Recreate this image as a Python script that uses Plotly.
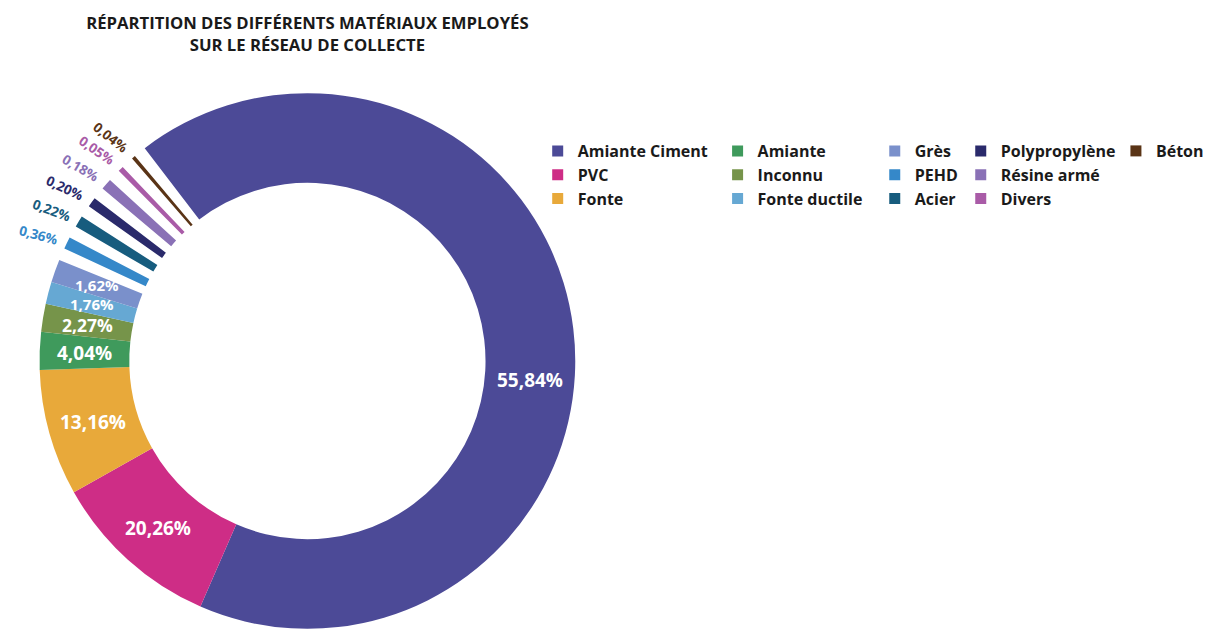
import math
import plotly.graph_objects as go

# ---------------- data ----------------
materials = ["Amiante Ciment", "PVC", "Fonte", "Amiante", "Inconnu", "Fonte ductile",
             "Grès", "PEHD", "Acier", "Polypropylène", "Résine armé", "Divers", "Béton"]
# percentages printed on the chart
pct_labels = [55.84, 20.26, 13.16, 4.04, 2.27, 1.76, 1.62, 0.36, 0.22, 0.20, 0.18, 0.05, 0.04]
# share of the ring each slice actually occupies in the picture (in %)
drawn_share = [66.92, 10.31, 7.61, 2.28, 1.69, 1.33, 1.39, 0.72, 0.69, 0.58, 0.67, 0.33, 0.22]
# small slices that are drawn separated from their neighbours
detached = [False, False, False, False, False, False, False, True, True, True, True, True, True]
colors = ["#4C4A97", "#CE2D86", "#E8A93A", "#3F9A5C", "#76944A", "#66A8D3", "#7A90CB",
          "#3588C9", "#175C7E", "#2A2A6B", "#8A71B6", "#A95BA7", "#5A3416"]

TITLE = "RÉPARTITION DES DIFFÉRENTS MATÉRIAUX EMPLOYÉS<br>SUR LE RÉSEAU DE COLLECTE"

# ---------------- geometry / style ----------------
W, H = 1209, 632
CX, CY, R = 311, 361, 271
HOLE = 0.665
START = 322.6          # degrees clockwise from 12 o'clock
GAP = 0.75             # white spacing around detached slices (% of ring)
FONT = "Open Sans"

def fmt(v):
    return f"{v:.2f}".replace(".", ",") + "%"

# build pie values with spacing slices around the detached ones
vals, labs, cols = [], [], []
mids = []
acc = 0.0
total = sum(drawn_share) + GAP * (sum(detached) + 1)
gap_k = 0
for i, (m, v) in enumerate(zip(materials, drawn_share)):
    if detached[i]:
        gap_k += 1
        vals.append(GAP); labs.append(f"gap{gap_k}"); cols.append("rgba(0,0,0,0)")
        acc += GAP
    vals.append(v); labs.append(m); cols.append(colors[i])
    mids.append(START + 360.0 * (acc + v / 2) / total)
    acc += v
if detached[-1]:
    gap_k += 1
    vals.append(GAP); labs.append(f"gap{gap_k}"); cols.append("rgba(0,0,0,0)")

fig = go.Figure()
fig.add_trace(go.Pie(
    values=vals, labels=labs, sort=False, direction="clockwise", rotation=START - 360,
    hole=HOLE, textinfo="none", showlegend=False, hoverinfo="label",
    marker=dict(colors=cols, line=dict(width=0)),
    domain=dict(x=[(CX - R) / W, (CX + R) / W], y=[1 - (CY + R) / H, 1 - (CY - R) / H]),
))

# labels
inside_size = [19, 19, 19, 19, 17.5, 15, 15]
label_shift = {0: 11.7}
annotations = []
r_in = R * (1 + HOLE) / 2
r_out = 300
for i, mid in enumerate(mids):
    if detached[i]:
        ang = mid - 1.2
        r = r_out
        tilt = mid - 281
        size = 13.5
        color = colors[i]
    else:
        ang = mid + label_shift.get(i, 0)
        r = r_in
        tilt = max(0.0, 0.45 * (mid - 262)) if 262 < mid < 300 else 0
        size = inside_size[i]
        color = "white"
    a = math.radians(ang)
    px = CX + r * math.sin(a)
    py = CY - r * math.cos(a)
    annotations.append(dict(
        x=px / W, y=1 - py / H, xref="paper", yref="paper", showarrow=False,
        text=fmt(pct_labels[i]), textangle=tilt, xanchor="center", yanchor="middle",
        font=dict(family=FONT, size=size, color=color, weight="bold"),
    ))

# legend: 5 columns of 3, column-major in slice order
col_text_x = [584, 766, 925, 1012, 1169]
legend_top = 134
for i, m in enumerate(materials):
    c = i // 3
    lg = "legend" if c == 0 else f"legend{c + 1}"
    fig.add_trace(go.Scatter(
        x=[None], y=[None], mode="markers", name=m, legend=lg,
        marker=dict(symbol="square", size=11, color=colors[i]),
    ))

legend_common = dict(
    font=dict(family=FONT, size=16, color="#1a1a1a", weight="bold"),
    bgcolor="rgba(0,0,0,0)", borderwidth=0, orientation="v",
    xanchor="left", yanchor="top", yref="paper", xref="paper",
)
layout_legends = {}
for c, tx in enumerate(col_text_x):
    key = "legend" if c == 0 else f"legend{c + 1}"
    layout_legends[key] = dict(x=(tx - 40) / W, y=1 - legend_top / H, **legend_common)

fig.update_layout(
    width=W, height=H, margin=dict(l=0, r=0, t=0, b=0),
    paper_bgcolor="white", plot_bgcolor="white",
    xaxis=dict(visible=False), yaxis=dict(visible=False),
    title=dict(text=TITLE, x=CX / W, xref="paper", xanchor="center",
               y=1 - 29 / H, yref="container", yanchor="top",
               font=dict(family=FONT, size=16.7, color="#1a1a1a", weight="bold")),
    annotations=annotations,
    **layout_legends,
)

fig.write_html("out.html", config={"displayModeBar": False},
               post_script="document.body.style.margin='0px';")
